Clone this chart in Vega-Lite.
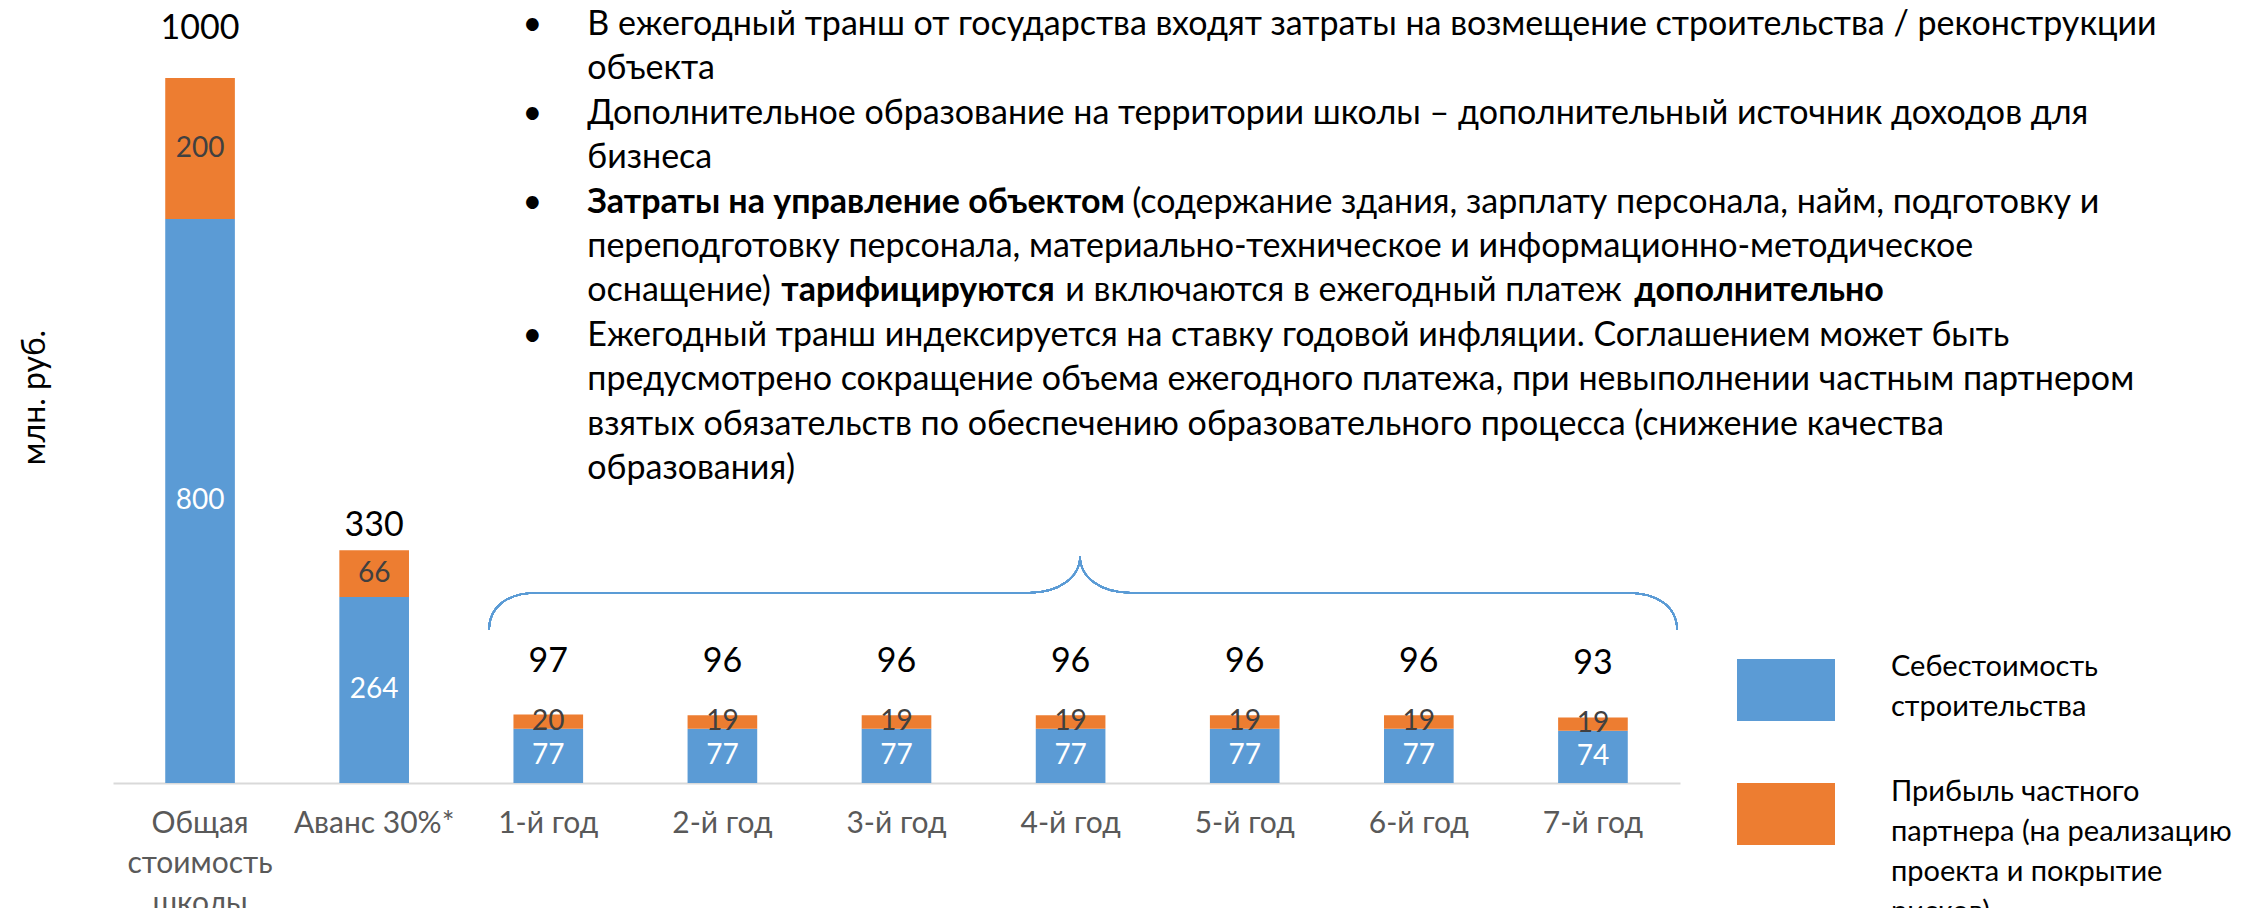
{
  "$schema": "https://vega.github.io/schema/vega-lite/v6.json",
  "width": 1567,
  "height": 705,
  "autosize": {"type": "none"},
  "padding": {"left": 113, "top": 78, "right": 566, "bottom": 125},
  "background": "white",
  "config": {"view": {"stroke": null}, "font": "Lato", "text": {"font": "Lato"}},
  "datasets": {
    "bars": [
      {"cat": "Общая стоимость школы", "series": "Себестоимость строительства", "value": 800},
      {"cat": "Общая стоимость школы", "series": "Прибыль частного партнера (на реализацию проекта и покрытие рисков)", "value": 200},
      {"cat": "Аванс 30%*", "series": "Себестоимость строительства", "value": 264},
      {"cat": "Аванс 30%*", "series": "Прибыль частного партнера (на реализацию проекта и покрытие рисков)", "value": 66},
      {"cat": "1-й год", "series": "Себестоимость строительства", "value": 77},
      {"cat": "1-й год", "series": "Прибыль частного партнера (на реализацию проекта и покрытие рисков)", "value": 20},
      {"cat": "2-й год", "series": "Себестоимость строительства", "value": 77},
      {"cat": "2-й год", "series": "Прибыль частного партнера (на реализацию проекта и покрытие рисков)", "value": 19},
      {"cat": "3-й год", "series": "Себестоимость строительства", "value": 77},
      {"cat": "3-й год", "series": "Прибыль частного партнера (на реализацию проекта и покрытие рисков)", "value": 19},
      {"cat": "4-й год", "series": "Себестоимость строительства", "value": 77},
      {"cat": "4-й год", "series": "Прибыль частного партнера (на реализацию проекта и покрытие рисков)", "value": 19},
      {"cat": "5-й год", "series": "Себестоимость строительства", "value": 77},
      {"cat": "5-й год", "series": "Прибыль частного партнера (на реализацию проекта и покрытие рисков)", "value": 19},
      {"cat": "6-й год", "series": "Себестоимость строительства", "value": 77},
      {"cat": "6-й год", "series": "Прибыль частного партнера (на реализацию проекта и покрытие рисков)", "value": 19},
      {"cat": "7-й год", "series": "Себестоимость строительства", "value": 74},
      {"cat": "7-й год", "series": "Прибыль частного партнера (на реализацию проекта и покрытие рисков)", "value": 19}
    ],
    "notes": [
      {"line": 0, "seg": -1, "bold": false, "text": "•"},
      {"line": 2, "seg": -1, "bold": false, "text": "•"},
      {"line": 4, "seg": -1, "bold": false, "text": "•"},
      {"line": 7, "seg": -1, "bold": false, "text": "•"},
      {"line": 0, "seg": 0, "bold": false, "text": "В ежегодный транш от государства входят затраты на возмещение строительства / реконструкции"},
      {"line": 1, "seg": 0, "bold": false, "text": "объекта"},
      {"line": 2, "seg": 0, "bold": false, "text": "Дополнительное образование на территории школы – дополнительный источник доходов для"},
      {"line": 3, "seg": 0, "bold": false, "text": "бизнеса"},
      {"line": 4, "seg": 0, "bold": true, "text": "Затраты на управление объектом"},
      {"line": 4, "seg": 1, "bold": false, "text": "(содержание здания, зарплату персонала, найм, подготовку и"},
      {"line": 5, "seg": 0, "bold": false, "text": "переподготовку персонала, материально-техническое и информационно-методическое"},
      {"line": 6, "seg": 0, "bold": false, "text": "оснащение)"},
      {"line": 6, "seg": 1, "bold": true, "text": "тарифицируются"},
      {"line": 6, "seg": 2, "bold": false, "text": "и включаются в ежегодный платеж"},
      {"line": 6, "seg": 3, "bold": true, "text": "дополнительно"},
      {"line": 7, "seg": 0, "bold": false, "text": "Ежегодный транш индексируется на ставку годовой инфляции. Соглашением может быть"},
      {"line": 8, "seg": 0, "bold": false, "text": "предусмотрено сокращение объема ежегодного платежа, при невыполнении частным партнером"},
      {"line": 9, "seg": 0, "bold": false, "text": "взятых обязательств по обеспечению образовательного процесса (снижение качества"},
      {"line": 10, "seg": 0, "bold": false, "text": "образования)"}
    ]
  },
  "layer": [
    {
      "data": {"name": "bars"},
      "layer": [
        {
          "mark": {"type": "bar"},
          "encoding": {
            "x": {
              "field": "cat", "type": "nominal", "sort": null, "title": null,
              "scale": {"domain": ["Общая стоимость школы", "Аванс 30%*", "1-й год", "2-й год", "3-й год", "4-й год", "5-й год", "6-й год", "7-й год"], "paddingInner": 0.6, "paddingOuter": 0.3},
              "axis": {
                "labelAngle": 0, "labelFontSize": 30, "labelFont": "Lato", "labelColor": "#595959",
                "labelPadding": 25, "ticks": false, "tickSize": 0, "domainColor": "#D9D9D9", "domainWidth": 2,
                "labelLineHeight": 40, "labelBaseline": "top", "labelLimit": 300,
                "labelExpr": "datum.value == 'Общая стоимость школы' ? ['Общая','стоимость','школы'] : datum.label"
              }
            },
            "y": {
              "field": "value", "type": "quantitative", "stack": "zero",
              "scale": {"domain": [0, 1000], "nice": false},
              "axis": {
                "title": "млн. руб.", "labels": false, "ticks": false, "domain": false, "grid": false,
                "titleFontSize": 32, "titleFont": "Lato", "titleFontWeight": "normal", "titleColor": "black",
                "titleX": -79, "titleY": 319, "titleAngle": -90, "titleAlign": "center", "titleBaseline": "middle"
              }
            },
            "color": {
              "field": "series", "type": "nominal",
              "scale": {"domain": ["Себестоимость строительства", "Прибыль частного партнера (на реализацию проекта и покрытие рисков)"], "range": ["#5B9BD5", "#ED7D31"]},
              "legend": {
                "title": null, "orient": "none", "legendX": 1624, "legendY": 563,
                "symbolType": "M-1,-0.633H1V0.633H-1Z", "symbolSize": 9604, "symbolStrokeWidth": 0, "symbolOpacity": 1,
                "labelFontSize": 29, "labelFont": "Lato", "labelColor": "black", "labelOffset": 56, "labelLimit": 600,
                "rowPadding": 43, "padding": 0,
                "labelExpr": "datum.label == 'Себестоимость строительства' ? ['Себестоимость','строительства'] : ['Прибыль частного','партнера (на реализацию','проекта и покрытие','рисков)']",
                "encode": {"labels": {"update": {"lineHeight": {"value": 40}, "dy": {"signal": "datum.value == 'Себестоимость строительства' ? -23 : -22"}}}}
              }
            },
            "order": {"field": "series", "sort": "descending"}
          }
        },
        {
          "mark": {"type": "text", "fontSize": 28, "baseline": "middle", "font": "Lato"},
          "encoding": {
            "x": {"field": "cat", "type": "nominal", "sort": null, "title": null},
            "y": {"field": "value", "type": "quantitative", "stack": "zero", "bandPosition": 0.5, "title": "млн. руб."},
            "order": {"field": "series", "sort": "descending"},
            "text": {"field": "value", "type": "quantitative"},
            "color": {"condition": {"test": "datum.series == 'Себестоимость строительства'", "value": "white"}, "value": "#404040"}
          }
        },
        {
          "transform": [
            {"filter": "datum.cat == 'Общая стоимость школы'"},
            {"aggregate": [{"op": "sum", "field": "value", "as": "total"}], "groupby": ["cat"]}
          ],
          "mark": {"type": "text", "fontSize": 34, "baseline": "middle", "dy": -49, "color": "black", "font": "Lato"},
          "encoding": {
            "x": {"field": "cat", "type": "nominal", "title": null},
            "y": {"field": "total", "type": "quantitative", "title": "млн. руб."},
            "text": {"field": "total", "type": "quantitative"}
          }
        },
        {
          "transform": [
            {"filter": "datum.cat == 'Аванс 30%*'"},
            {"aggregate": [{"op": "sum", "field": "value", "as": "total"}], "groupby": ["cat"]}
          ],
          "mark": {"type": "text", "fontSize": 34, "baseline": "middle", "dy": -24, "color": "black", "font": "Lato"},
          "encoding": {
            "x": {"field": "cat", "type": "nominal", "title": null},
            "y": {"field": "total", "type": "quantitative", "title": "млн. руб."},
            "text": {"field": "total", "type": "quantitative"}
          }
        },
        {
          "transform": [
            {"filter": "datum.cat != 'Аванс 30%*' && datum.cat != 'Общая стоимость школы'"},
            {"aggregate": [{"op": "sum", "field": "value", "as": "total"}], "groupby": ["cat"]}
          ],
          "mark": {"type": "text", "fontSize": 34, "baseline": "middle", "dy": -53, "color": "black", "font": "Lato"},
          "encoding": {
            "x": {"field": "cat", "type": "nominal", "title": null},
            "y": {"field": "total", "type": "quantitative", "title": "млн. руб."},
            "text": {"field": "total", "type": "quantitative"}
          }
        },
        {
          "mark": {
            "type": "point", "filled": false, "opacity": 1, "stroke": "#5B9BD5", "strokeWidth": 1.5,
            "size": 1440000,
            "shape": "M-0.9693,0.0622C-0.9693,0.025,-0.94,0,-0.8893,0L-0.0677,0C-0.02,0,0.0157,-0.025,0.0157,-0.0612C0.0157,-0.025,0.05,0,0.099,0L0.9273,0C0.98,0,1.0107,0.025,1.0107,0.0622"
          },
          "encoding": {
            "x": {"datum": "4-й год"},
            "y": {"datum": 270, "type": "quantitative", "title": "млн. руб."}
          }
        }
      ]
    },
    {
      "data": {"name": "notes"},
      "encoding": {
        "x": {"datum": "1-й год"},
        "y": {"field": "line", "type": "quantitative", "scale": {"domain": [0, 10], "range": [-53, 391], "nice": false, "zero": false}, "axis": null},
        "text": {"field": "text"}
      },
      "layer": [
        {
          "transform": [{"filter": "datum.seg == -1"}],
          "mark": {"type": "text", "align": "center", "baseline": "middle", "fontSize": 34, "font": "Lato", "color": "black", "dx": -16}
        },
        {
          "transform": [{"filter": "datum.seg == 0 && !datum.bold"}],
          "mark": {"type": "text", "align": "left", "baseline": "middle", "fontSize": 34, "font": "Lato", "color": "black", "dx": 39}
        },
        {
          "transform": [{"filter": "datum.seg == 0 && datum.bold"}],
          "mark": {"type": "text", "align": "left", "baseline": "middle", "fontSize": 34, "font": "Lato", "fontWeight": "bold", "color": "black", "dx": 39}
        },
        {
          "transform": [{"filter": "datum.line == 4 && datum.seg == 1"}],
          "mark": {"type": "text", "align": "left", "baseline": "middle", "fontSize": 34, "font": "Lato", "color": "black", "dx": 584}
        },
        {
          "transform": [{"filter": "datum.line == 6 && datum.seg == 1"}],
          "mark": {"type": "text", "align": "left", "baseline": "middle", "fontSize": 34, "font": "Lato", "fontWeight": "bold", "color": "black", "dx": 233}
        },
        {
          "transform": [{"filter": "datum.line == 6 && datum.seg == 2"}],
          "mark": {"type": "text", "align": "left", "baseline": "middle", "fontSize": 34, "font": "Lato", "color": "black", "dx": 517}
        },
        {
          "transform": [{"filter": "datum.line == 6 && datum.seg == 3"}],
          "mark": {"type": "text", "align": "left", "baseline": "middle", "fontSize": 34, "font": "Lato", "fontWeight": "bold", "color": "black", "dx": 1086}
        }
      ]
    }
  ],
  "resolve": {"scale": {"y": "independent"}}
}
